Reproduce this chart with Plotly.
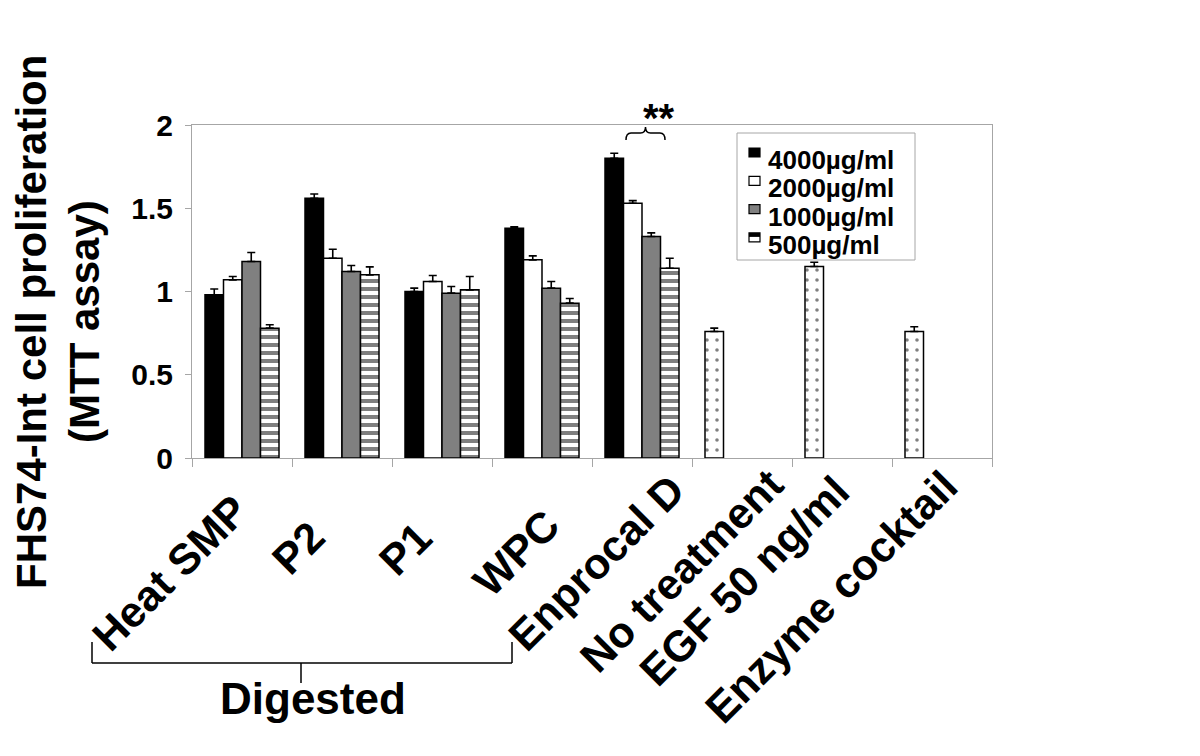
import plotly.graph_objects as go

# ---------------- data ----------------
categories = ["Heat SMP", "P2", "P1", "WPC", "Enprocal D",
              "No treatment", "EGF 50 ng/ml", "Enzyme cocktail"]
digested_cats = categories[:5]
control_cats = categories[5:]

series_names = ["4000µg/ml", "2000µg/ml", "1000µg/ml", "500µg/ml"]
vals_4000 = [0.98, 1.56, 1.00, 1.38, 1.80]
err_4000 = [0.035, 0.026, 0.02, 0.008, 0.03]
vals_2000 = [1.07, 1.20, 1.06, 1.19, 1.53]
err_2000 = [0.02, 0.054, 0.036, 0.024, 0.016]
vals_1000 = [1.18, 1.12, 0.99, 1.02, 1.33]
err_1000 = [0.054, 0.036, 0.04, 0.04, 0.022]
vals_500 = [0.78, 1.10, 1.01, 0.93, 1.14]
err_500 = [0.02, 0.048, 0.08, 0.028, 0.06]
vals_ctrl = [0.76, 1.15, 0.76]
err_ctrl = [0.02, 0.026, 0.028]

y_ticks = [0, 0.5, 1, 1.5, 2]
y_ticktext = ["0", "0.5", "1", "1.5", "2"]
y_title_lines = ["FHS74-Int cell proliferation", "(MTT assay)"]
sig_text = "**"
group_text = "Digested"

# ---------------- layout constants ----------------
W, H = 1200, 756
PAGE_OFF = 8                      # browser body margin
X0, X1, Y0, Y1 = 192, 992, 125, 458   # plot area on screen
L = X0 - PAGE_OFF
T = Y0 - PAGE_OFF
R = W - (X1 - PAGE_OFF)
B = H - (Y1 - PAGE_OFF)
PW, PH = X1 - X0, Y1 - Y0
FONT = "Liberation Sans, Arial, sans-serif"
GRID = "#a6a6a6"


def px(x):
    return (x - X0) / PW


def py(y):
    return (Y1 - y) / PH


# centres (screen pixels) of the rotated category labels
label_centres = [(170, 573), (298, 548), (405, 549), (516, 553),
                 (596, 563), (681, 571), (744, 581), (831, 597)]

fig = go.Figure()

stripe = dict(shape="-", fgcolor="black", bgcolor="white",
              size=8, solidity=0.5, fillmode="overlay")
styles = [
    dict(color="black", pattern=dict(shape="")),
    dict(color="white", pattern=dict(shape="")),
    dict(color="#808080", pattern=dict(shape="")),
    dict(color="white", pattern=stripe),
]
data_series = [(vals_4000, err_4000), (vals_2000, err_2000),
               (vals_1000, err_1000), (vals_500, err_500)]

for i, (name, (v, e), st) in enumerate(zip(series_names, data_series, styles)):
    fig.add_trace(go.Bar(
        x=digested_cats, y=v, name=name, offsetgroup=str(i),
        marker=dict(color=st["color"], pattern=st["pattern"],
                    line=dict(color="black", width=1.5)),
        error_y=dict(type="data", symmetric=False, array=e,
                     arrayminus=[0] * len(e), color="black",
                     thickness=1.6, width=4),
    ))

fig.add_trace(go.Bar(
    x=control_cats, y=vals_ctrl, name="control", offsetgroup="0",
    showlegend=False,
    marker=dict(color="white",
                pattern=dict(shape=".", fgcolor="black", bgcolor="white",
                             size=10, solidity=0.1),
                line=dict(color="black", width=1.5)),
    error_y=dict(type="data", symmetric=False, array=err_ctrl,
                 arrayminus=[0] * len(err_ctrl), color="black",
                 thickness=1.6, width=4),
))

annotations = []
for cat, (cx, cy) in zip(categories, label_centres):
    annotations.append(dict(
        text=cat, x=px(cx), y=py(cy), xref="paper", yref="paper",
        xanchor="center", yanchor="middle", textangle=-45, showarrow=False,
        font=dict(family=FONT, size=43, color="black", weight="bold")))

# y-axis title, two rotated lines
annotations.append(dict(
    text=y_title_lines[0], x=px(31), y=py(322), xref="paper",
    yref="paper", xanchor="center", yanchor="middle", textangle=-90,
    showarrow=False,
    font=dict(family=FONT, size=42, color="black", weight="bold")))
annotations.append(dict(
    text=y_title_lines[1], x=px(84), y=py(322), xref="paper",
    yref="paper", xanchor="center", yanchor="middle", textangle=-90,
    showarrow=False,
    font=dict(family=FONT, size=42, color="black", weight="bold")))

annotations.append(dict(
    text=sig_text, x=px(659), y=py(118), xref="paper", yref="paper",
    xanchor="center", yanchor="middle", showarrow=False,
    font=dict(family=FONT, size=40, color="black", weight="bold")))

annotations.append(dict(
    text=group_text, x=px(313), y=py(698), xref="paper", yref="paper",
    xanchor="center", yanchor="middle", showarrow=False,
    font=dict(family=FONT, size=44, color="black", weight="bold")))

shapes = []
# curly brace above Enprocal D
bx0, bx1, bxm = 626, 665, 645.5
byb, bym, byt = 140, 133, 127
brace = (f"M {px(bx0)},{py(byb)} Q {px(bx0)},{py(bym)} {px(bx0+5)},{py(bym)} "
         f"L {px(bxm-5)},{py(bym)} Q {px(bxm)},{py(bym)} {px(bxm)},{py(byt)} "
         f"Q {px(bxm)},{py(bym)} {px(bxm+5)},{py(bym)} "
         f"L {px(bx1-5)},{py(bym)} Q {px(bx1)},{py(bym)} {px(bx1)},{py(byb)}")
shapes.append(dict(type="path", path=brace, xref="paper", yref="paper",
                   line=dict(color="black", width=1.5)))

# "Digested" bracket
lx0, lx1, lxm = 92, 512, 301
ly0, ly1, ly2 = 642, 663, 683
for (xa, ya, xb, yb) in [(lx0, ly0, lx0, ly1), (lx0, ly1, lx1, ly1),
                         (lx1, ly1, lx1, ly0), (lxm, ly1, lxm, ly2)]:
    shapes.append(dict(type="line", xref="paper", yref="paper",
                       x0=px(xa), y0=py(ya), x1=px(xb), y1=py(yb),
                       line=dict(color="black", width=1.5)))

# legend drawn as a box with swatches and labels
LG_X0, LG_X1, LG_Y0, LG_Y1 = 737, 915, 133, 260
shapes.append(dict(type="rect", xref="paper", yref="paper",
                   x0=px(LG_X0), x1=px(LG_X1), y0=py(LG_Y0), y1=py(LG_Y1),
                   line=dict(color=GRID, width=1), fillcolor="white",
                   layer="above"))
sw_x0, sw_x1 = 749, 760
first_sw_y, step = 148, 28.3
for i, (name, st) in enumerate(zip(series_names, styles)):
    sy0 = first_sw_y + i * step
    sy1 = sy0 + 9
    shapes.append(dict(type="rect", xref="paper", yref="paper",
                       x0=px(sw_x0), x1=px(sw_x1), y0=py(sy0), y1=py(sy1),
                       line=dict(color="black", width=1.2),
                       fillcolor=st["color"], layer="above"))
    if st["pattern"]["shape"] == "-":
        shapes.append(dict(type="rect", xref="paper", yref="paper",
                           x0=px(sw_x0), x1=px(sw_x1), y0=py(sy0),
                           y1=py(sy0 + 4), line=dict(width=0),
                           fillcolor="black", layer="above"))
    annotations.append(dict(
        text=name, x=px(766), y=py(sy0 + 12), xref="paper", yref="paper",
        xanchor="left", yanchor="middle", showarrow=False,
        font=dict(family=FONT, size=26, color="black", weight="bold")))

fig.update_layout(
    width=W, height=H,
    margin=dict(l=L, r=R, t=T, b=B, autoexpand=False),
    paper_bgcolor="white", plot_bgcolor="white",
    font=dict(family=FONT, color="black"),
    barmode="group", bargap=0.26, bargroupgap=0,
    showlegend=False,
    annotations=annotations,
    shapes=shapes,
)

fig.update_xaxes(
    type="category", categoryorder="array", categoryarray=categories,
    range=[-0.5, len(categories) - 0.5],
    showticklabels=False, showline=True, linecolor=GRID, linewidth=1,
    mirror=True, ticks="outside", tickson="boundaries", ticklen=8,
    tickcolor=GRID, showgrid=False, zeroline=False,
)
fig.update_yaxes(
    range=[0, 2], tickvals=y_ticks, ticktext=y_ticktext,
    showline=True, linecolor=GRID, linewidth=1, mirror=True,
    ticks="outside", ticklen=6, tickcolor=GRID, showgrid=False,
    zeroline=False, ticklabelstandoff=6,
    tickfont=dict(family=FONT, size=30, color="black", weight="bold"),
)

fig.write_html("out.html")
